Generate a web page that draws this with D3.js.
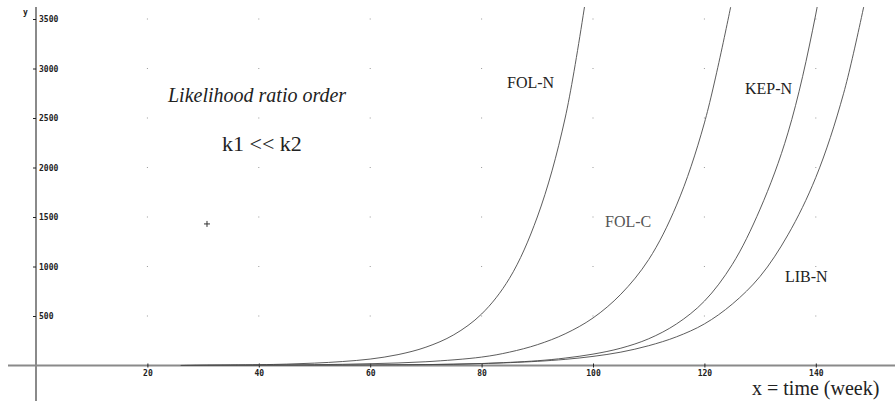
<!DOCTYPE html>
<html lang="en">
<head>
<meta charset="UTF-8">
<title>Likelihood ratio order</title>
<style>
  body { margin: 0; background: #fff; }
  svg { display: block; }
</style>
</head>
<body>
<div id="chart"></div>
<script src="https://cdn.jsdelivr.net/npm/d3@7"></script>
<script>
// data: [week, value]
const FOL_N = [[26,0],[30,3],[40,8],[45,14],[50,24],[55,40],[60,65],[65,110],[70,185],[75,310],[80,520],[85,880],[90,1500],[95,2500],[100,4200]]
const FOL_C = [[26,0],[30,1.5],[40,3.5],[50,8],[60,18],[70,38],[80,85],[85,135],[90,210],[95,320],[100,480],[105,720],[110,1070],[115,1620],[120,2450],[125,3700]]
const KEP_N = [[26,0],[30,0.5],[40,1],[50,2],[60,4],[70,9],[80,20],[90,48],[95,75],[100,115],[105,175],[110,270],[115,420],[120,650],[125,1020],[130,1580],[135,2350],[140,3550],[145,5300]]
const LIB_N = [[26,0],[30,0.5],[40,1],[50,2],[60,4],[70,9],[80,19],[90,42],[95,62],[100,92],[105,135],[110,200],[115,290],[120,420],[125,620],[130,900],[135,1320],[140,1900],[145,2750],[150,4000]]
const seriesNames = ["FOL-N", "FOL-C", "KEP-N", "LIB-N"]
const xTicks = [20, 40, 60, 80, 100, 120, 140]
const yTicks = [500, 1000, 1500, 2000, 2500, 3000, 3500]
const marker = [30.7, 1430]

const W = 895, H = 403
const svg = d3.select("#chart").append("svg")
    .attr("width", W).attr("height", H)

const x = d3.scaleLinear().domain([0, 140]).range([36, 36 + 140 * 5.57])
const y = d3.scaleLinear().domain([0, 3500]).range([365.5, 19])

svg.append("clipPath").attr("id", "plot")
  .append("rect")
    .attr("x", 36).attr("y", 7)
    .attr("width", W - 36).attr("height", 365.5 - 7)

// grid dots
const grid = svg.append("g")
xTicks.forEach(tx => {
    yTicks.forEach(ty => {
        grid.append("rect")
            .attr("x", x(tx) - 0.5).attr("y", y(ty) - 0.5)
            .attr("width", 1).attr("height", 1)
            .attr("fill", "#999")
    })
})

// axis lines
svg.append("line")
    .attr("x1", 36).attr("x2", 36).attr("y1", 7).attr("y2", 401)
    .attr("stroke", "#8a8a8a").attr("stroke-width", 2)
svg.append("line")
    .attr("x1", 8).attr("x2", W).attr("y1", y(0)).attr("y2", y(0))
    .attr("stroke", "#8a8a8a").attr("stroke-width", 2)

const monoFont = "'DejaVu Sans Mono', monospace"

// y axis ticks + labels
const yAxis = svg.append("g")
    .attr("transform", "translate(36,0)")
    .call(d3.axisLeft(y).tickValues(yTicks).tickSize(3).tickFormat(d3.format("d")))
yAxis.select(".domain").remove()
yAxis.selectAll(".tick line").attr("stroke", "#222")
yAxis.selectAll(".tick text")
    .attr("x", 3).attr("text-anchor", "start").attr("dy", "0.35em")
    .style("font-family", monoFont)
    .style("font-weight", "bold").style("font-size", "8px").attr("fill", "#222")

// x axis ticks + labels
const xAxis = svg.append("g")
    .attr("transform", `translate(0,${y(0)})`)
    .call(d3.axisBottom(x).tickValues(xTicks).tickSize(2).tickFormat(d3.format("d")))
xAxis.select(".domain").remove()
xAxis.selectAll(".tick line").attr("y1", -2).attr("stroke", "#222")
xAxis.selectAll(".tick text")
    .attr("y", 5).attr("dy", "0.71em")
    .style("font-family", monoFont)
    .style("font-weight", "bold").style("font-size", "8px").attr("fill", "#222")

svg.append("text").attr("x", 23).attr("y", 15).text("y")
    .style("font-family", monoFont)
    .style("font-weight", "bold").style("font-size", "8px").attr("fill", "#222")

// curves
const line = d3.line()
    .x(d => x(d[0]))
    .y(d => y(d[1]))
    .curve(d3.curveCatmullRom.alpha(0.5))

const curves = svg.append("g").attr("clip-path", "url(#plot)")
;[FOL_N, FOL_C, KEP_N, LIB_N].forEach(s => {
    curves.append("path")
        .attr("d", line(s))
        .attr("fill", "none")
        .attr("stroke", "#4a4a4a")
        .attr("stroke-width", 0.9)
})

// marker
const mx = x(marker[0]), my = y(marker[1])
svg.append("path")
    .attr("d", `M${mx - 3},${my} H${mx + 3} M${mx},${my - 3} V${my + 3}`)
    .attr("stroke", "#333").attr("stroke-width", 1)

// labels
const serif = "'Liberation Serif', 'Times New Roman', serif"
const labelPos = [[507, 88], [605, 227], [745, 94], [785, 282]]
seriesNames.forEach((n, i) => {
    svg.append("text")
        .attr("x", labelPos[i][0]).attr("y", labelPos[i][1])
        .text(n)
        .style("font-family", serif).style("font-size", "16px")
        .attr("fill", i == 1 ? "#555" : "#222")
})

svg.append("text").attr("x", 168).attr("y", 102)
    .text("Likelihood ratio order")
    .style("font-family", serif).style("font-style", "italic")
    .style("font-size", "20px").attr("fill", "#222")

svg.append("text").attr("x", 222).attr("y", 151)
    .text("k1 << k2")
    .style("font-family", serif).style("font-size", "22px").attr("fill", "#222")

svg.append("text").attr("x", 752).attr("y", 395)
    .text("x = time (week)")
    .style("font-family", serif).style("font-size", "20px").attr("fill", "#222")
</script>
</body>
</html>
